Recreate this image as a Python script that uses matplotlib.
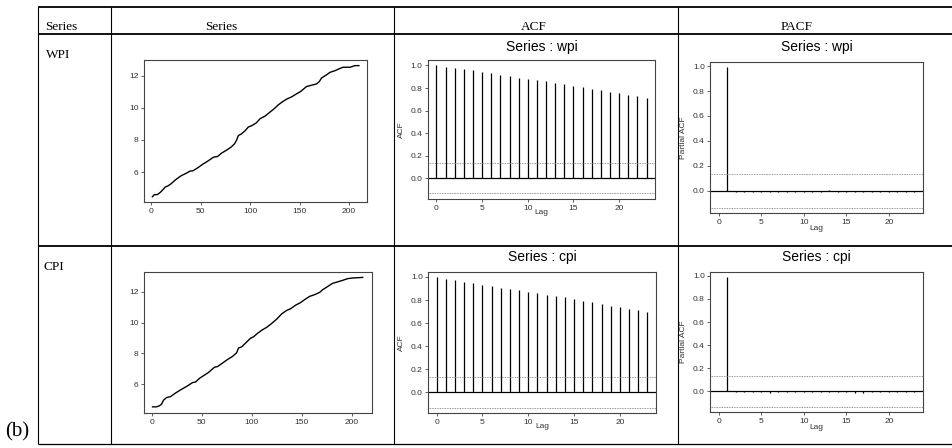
import numpy as np
import matplotlib
matplotlib.use("Agg")
import matplotlib.pyplot as plt
from matplotlib.lines import Line2D

W, H = 952, 448

# ---- data ----
wpi_t = [1, 3, 6, 9, 12, 14, 17, 20, 25, 30, 35, 39, 42, 47, 52, 57, 61, 63, 67, 71,
         76, 81, 84, 86, 88, 91, 95, 98, 101, 106, 110, 115, 120, 125, 128, 133, 137,
         142, 147, 151, 157, 162, 167, 170, 172, 177, 181, 186, 191, 194, 201, 206, 210]
wpi = [4.47, 4.60, 4.60, 4.74, 4.93, 5.07, 5.15, 5.28, 5.55, 5.77, 5.92, 6.06, 6.08,
       6.27, 6.49, 6.68, 6.85, 6.93, 6.97, 7.18, 7.36, 7.57, 7.75, 7.96, 8.27, 8.37,
       8.58, 8.80, 8.87, 9.05, 9.32, 9.48, 9.73, 9.98, 10.16, 10.39, 10.54, 10.68,
       10.87, 11.01, 11.32, 11.40, 11.48, 11.63, 11.84, 12.04, 12.21, 12.31, 12.45,
       12.52, 12.52, 12.62, 12.62]

cpi_t = [1, 5, 8, 10, 12, 15, 19, 23, 28, 31, 36, 41, 44, 48, 53, 57, 61, 63, 66, 71,
         76, 81, 85, 87, 90, 95, 99, 102, 106, 111, 115, 120, 125, 130, 135, 139, 144,
         149, 153, 158, 163, 168, 171, 176, 181, 186, 191, 196, 201, 206, 211]
cpi = [4.54, 4.54, 4.61, 4.71, 4.97, 5.14, 5.20, 5.39, 5.60, 5.71, 5.90, 6.11, 6.15,
       6.39, 6.60, 6.77, 7.00, 7.11, 7.15, 7.38, 7.61, 7.81, 8.04, 8.36, 8.42, 8.74,
       8.99, 9.08, 9.31, 9.54, 9.69, 9.94, 10.22, 10.56, 10.79, 10.90, 11.13, 11.30,
       11.49, 11.70, 11.81, 11.96, 12.13, 12.34, 12.55, 12.64, 12.74, 12.85, 12.89,
       12.91, 12.93]

acf_wpi = [1.0, 0.988, 0.979, 0.965, 0.956, 0.944, 0.929, 0.918, 0.906, 0.891, 0.882,
           0.868, 0.859, 0.841, 0.832, 0.815, 0.806, 0.788, 0.779, 0.762, 0.753, 0.738,
           0.726, 0.709]
acf_cpi = [1.0, 0.983, 0.974, 0.957, 0.948, 0.931, 0.922, 0.908, 0.896, 0.885, 0.870,
           0.859, 0.847, 0.833, 0.824, 0.807, 0.795, 0.781, 0.769, 0.752, 0.741, 0.723,
           0.715, 0.697]

pacf_wpi = [0.99, -0.010, -0.013, -0.008, -0.008, -0.010, -0.008, -0.008, -0.008,
            -0.008, -0.008, -0.008, 0.010, -0.008, -0.008, -0.008, -0.008, -0.008,
            -0.008, -0.008, -0.008, -0.008, -0.008]
pacf_cpi = [0.99, -0.008, -0.008, -0.008, -0.008, -0.012, -0.008, -0.008, -0.008,
            -0.008, -0.008, -0.008, -0.008, -0.008, -0.008, -0.010, -0.010, -0.008,
            -0.008, -0.008, -0.008, -0.008, -0.008]

conf = 0.135

headers = ["Series", "Series", "ACF", "PACF"]
row_names = ["WPI", "CPI"]
names = ["wpi", "cpi"]

SERIF = "Liberation Serif"
SANS = "Liberation Sans"
SPINE = "#444444"
TICKC = "#333333"

fig = plt.figure(figsize=(W / 100, H / 100), dpi=100)


def px_axes(left, top, right, bottom):
    return fig.add_axes([left / W, 1 - bottom / H, (right - left) / W, (bottom - top) / H])


def style(ax):
    for s in ax.spines.values():
        s.set_color(SPINE)
        s.set_linewidth(0.8)
    ax.tick_params(direction="out", length=2.5, width=0.6, color=SPINE,
                   labelsize=6, labelcolor=TICKC, pad=1.5)
    for lab in ax.get_xticklabels() + ax.get_yticklabels():
        lab.set_fontfamily(SANS)


def fline(x0, y0, x1, y1, lw):
    fig.add_artist(Line2D([x0 / W, x1 / W], [1 - y0 / H, 1 - y1 / H],
                          transform=fig.transFigure, color="black", lw=lw,
                          solid_capstyle="butt"))


# ---- table frame ----
fline(38, 6.7, W, 6.7, 1.3)
fline(38, 34.3, W, 34.3, 1.3)
fline(38, 245.7, W, 245.7, 1.3)
fline(38, 443.5, W, 443.5, 0.9)
for x in [38.3, 111, 394.3, 678.3]:
    fline(x, 6.7, x, 443.5, 0.8)

for x, txt in zip([45.5, 221, 534, 797], headers):
    fig.text(x / W, 1 - 27 / H, txt, family=SERIF, fontsize=9.5,
             ha="left" if x < 100 else "center", va="center")
fig.text(45.5 / W, 1 - 55 / H, row_names[0], family=SERIF, fontsize=9.5, ha="left", va="center")
fig.text(43 / W, 1 - 266.5 / H, row_names[1], family=SERIF, fontsize=9.5, ha="left", va="center")
fig.text(5 / W, 1 - 432 / H, "(b)", family=SERIF, fontsize=15, ha="left", va="center")

# ---- per-row panels ----
rows = [
    dict(t=wpi_t, y=wpi, acf=acf_wpi, pacf=pacf_wpi,
         ser=(144, 60, 367.3, 202), acfb=(428, 60.3, 655, 199), pacfb=(710.3, 61.7, 923.3, 213.3),
         acf_title=46.7, pacf_title=46.5),
    dict(t=cpi_t, y=cpi, acf=acf_cpi, pacf=pacf_cpi,
         ser=(144, 272, 371.7, 413), acfb=(428.3, 271.7, 655.7, 413.3), pacfb=(710.3, 271.7, 923.3, 412.3),
         acf_title=256.7, pacf_title=256.7),
]

for r, nm in zip(rows, names):
    # time series
    ax = px_axes(*r["ser"])
    ax.plot(r["t"], r["y"], color="black", lw=1.0)
    ax.set_xlim(-7.5, 218.5 if nm == "wpi" else 220)
    ax.set_ylim(4.14, 12.97 if nm == "wpi" else 13.28)
    ax.set_xticks([0, 50, 100, 150, 200])
    ax.set_yticks([6, 8, 10, 12])
    style(ax)

    # ACF
    ax = px_axes(*r["acfb"])
    lags = np.arange(len(r["acf"]))
    ax.vlines(lags, 0, r["acf"], color="black", lw=0.9)
    ax.axhline(0, color="black", lw=0.9)
    ax.axhline(conf, color="#777777", lw=0.6, ls=(0, (1, 1)))
    ax.axhline(-conf, color="#777777", lw=0.6, ls=(0, (1, 1)))
    ax.set_xlim(-0.92, 23.92)
    ax.set_ylim(-0.184, 1.046)
    ax.set_xticks([0, 5, 10, 15, 20])
    ax.set_yticks([0.0, 0.2, 0.4, 0.6, 0.8, 1.0])
    ax.set_yticklabels(["0.0", "0.2", "0.4", "0.6", "0.8", "1.0"])
    style(ax)
    l, t, rr, b = r["acfb"]
    fig.text((l + rr) / 2 / W, 1 - r["acf_title"] / H, "Series : " + nm, family=SANS,
             fontsize=10, ha="center", va="center")
    fig.text((l - 27) / W, 1 - (t + b) / 2 / H, "ACF", family=SANS, fontsize=6,
             rotation=90, ha="center", va="center", color=TICKC)
    fig.text((l + rr) / 2 / W, 1 - (b + 13) / H, "Lag", family=SANS, fontsize=6,
             ha="center", va="center", color=TICKC)

    # PACF
    ax = px_axes(*r["pacfb"])
    plags = np.arange(1, len(r["pacf"]) + 1)
    ax.vlines(plags, 0, r["pacf"], color="black", lw=0.9)
    ax.axhline(0, color="black", lw=0.9)
    ax.axhline(conf, color="#777777", lw=0.6, ls=(0, (1, 1)))
    ax.axhline(-conf, color="#777777", lw=0.6, ls=(0, (1, 1)))
    ax.set_xlim(-1.02, 24.04)
    ax.set_ylim(-0.18, 1.035)
    ax.set_xticks([0, 5, 10, 15, 20])
    ax.set_yticks([0.0, 0.2, 0.4, 0.6, 0.8, 1.0])
    ax.set_yticklabels(["0.0", "0.2", "0.4", "0.6", "0.8", "1.0"])
    style(ax)
    l, t, rr, b = r["pacfb"]
    fig.text((l + rr) / 2 / W, 1 - r["pacf_title"] / H, "Series : " + nm, family=SANS,
             fontsize=10, ha="center", va="center")
    fig.text((l - 27) / W, 1 - (t + b) / 2 / H, "Partial ACF", family=SANS, fontsize=6,
             rotation=90, ha="center", va="center", color=TICKC)
    fig.text((l + rr) / 2 / W, 1 - (b + 15) / H, "Lag", family=SANS, fontsize=6,
             ha="center", va="center", color=TICKC)

fig.savefig("out.png", dpi=100)
